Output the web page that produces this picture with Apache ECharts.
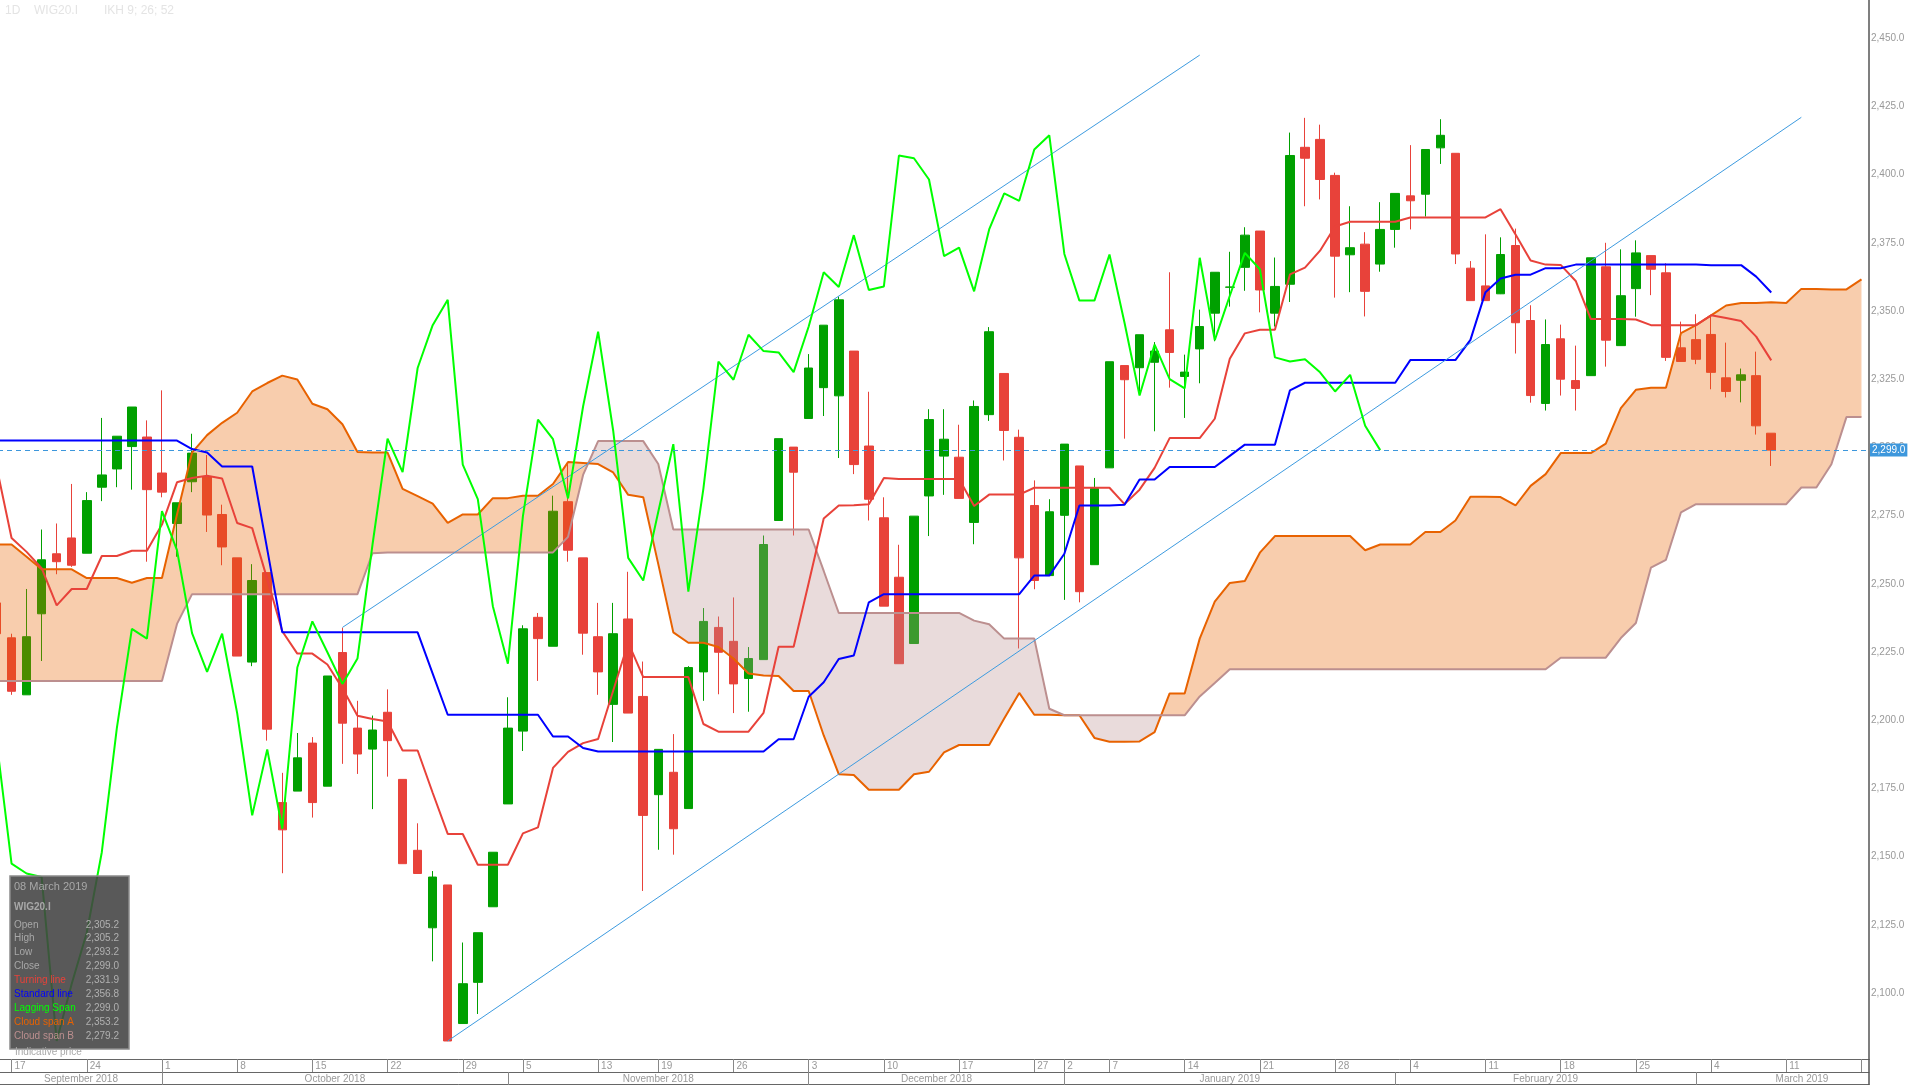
<!DOCTYPE html>
<html><head><meta charset="utf-8">
<script src="https://cdn.jsdelivr.net/npm/echarts@6/dist/echarts.min.js"></script>
<style>html,body{margin:0;padding:0;background:#fff;overflow:hidden;width:1908px;height:1085px;position:relative;}
#chart{position:absolute;left:-11px;top:0;width:1919px;height:1085px;}</style>
</head><body><div id="chart"></div>
<script>
// ---------- DATA ----------
const dates = [
'2018-09-14','2018-09-17','2018-09-18','2018-09-19','2018-09-20','2018-09-21','2018-09-24','2018-09-25','2018-09-26','2018-09-27','2018-09-28',
'2018-10-01','2018-10-02','2018-10-03','2018-10-04','2018-10-05','2018-10-08','2018-10-09','2018-10-10','2018-10-11','2018-10-12',
'2018-10-15','2018-10-16','2018-10-17','2018-10-18','2018-10-19','2018-10-22','2018-10-23','2018-10-24','2018-10-25','2018-10-26',
'2018-10-29','2018-10-30','2018-10-31','2018-11-02','2018-11-05','2018-11-06','2018-11-07','2018-11-08','2018-11-09',
'2018-11-13','2018-11-14','2018-11-15','2018-11-16','2018-11-19','2018-11-20','2018-11-21','2018-11-22','2018-11-23',
'2018-11-26','2018-11-27','2018-11-28','2018-11-29','2018-11-30','2018-12-03','2018-12-04','2018-12-05','2018-12-06','2018-12-07',
'2018-12-10','2018-12-11','2018-12-12','2018-12-13','2018-12-14','2018-12-17','2018-12-18','2018-12-19','2018-12-20','2018-12-21',
'2018-12-27','2018-12-28','2019-01-02','2019-01-03','2019-01-04','2019-01-07','2019-01-08','2019-01-09','2019-01-10','2019-01-11',
'2019-01-14','2019-01-15','2019-01-16','2019-01-17','2019-01-18','2019-01-21','2019-01-22','2019-01-23','2019-01-24','2019-01-25',
'2019-01-28','2019-01-29','2019-01-30','2019-01-31','2019-02-01','2019-02-04','2019-02-05','2019-02-06','2019-02-07','2019-02-08',
'2019-02-11','2019-02-12','2019-02-13','2019-02-14','2019-02-15','2019-02-18','2019-02-19','2019-02-20','2019-02-21','2019-02-22',
'2019-02-25','2019-02-26','2019-02-27','2019-02-28','2019-03-01','2019-03-04','2019-03-05','2019-03-06','2019-03-07','2019-03-08',
'2019-03-11','2019-03-12','2019-03-13','2019-03-14','2019-03-15','2019-03-18'];

const openP = [2243.0,2230.2,2209.3,2239.0,2261.0,2266.8,2261.2,2285.4,2292.1,2300.3,2303.8,2290.6,2272.1,2287.4,2289.2,2275.4,2259.5,2221.3,2254.1,2169.8,
2174.0,2191.6,2175.8,2224.8,2197.1,2189.4,2202.9,2178.3,2152.3,2123.9,2139.6,2088.8,2103.9,2131.6,2169.3,2196.0,2237.7,2227.1,2280.1,2259.5,
2230.6,2205.8,2237.1,2208.7,2172.7,2180.9,2167.6,2217.7,2234.0,2228.9,2215.3,2222.2,2273.2,2300.1,2310.6,2321.9,2318.9,2335.3,2300.5,2274.2,
2252.4,2228.1,2282.2,2296.8,2296.4,2272.5,2312.0,2327.1,2303.7,2278.7,2253.0,2275.1,2293.2,2257.0,2292.5,2330.0,2329.2,2331.2,2343.1,2326.0,
2336.1,2349.2,2358.7,2366.0,2379.3,2349.2,2359.8,2410.0,2412.9,2399.7,2370.6,2374.5,2367.2,2379.9,2392.2,2392.8,2409.8,2407.8,2365.7,2359.2,
2356.3,2374.0,2346.5,2316.1,2339.8,2324.5,2326.3,2366.2,2337.3,2358.2,2370.3,2364.0,2336.5,2339.5,2341.4,2325.5,2324.6,2326.3,2305.2];
const highP = [2246.0,2231.7,2248.1,2269.9,2272.1,2286.6,2283.6,2310.8,2304.1,2314.8,2309.9,2320.9,2279.7,2305.0,2297.2,2279.0,2259.5,2257.2,2254.1,2180.7,
2195.3,2193.8,2216.2,2233.9,2207.1,2201.7,2211.3,2178.3,2162.2,2144.7,2139.6,2118.5,2122.1,2151.6,2208.4,2234.8,2239.3,2282.3,2294.1,2259.5,
2243.0,2243.0,2254.4,2221.5,2189.3,2194.9,2219.8,2241.1,2238.0,2245.0,2226.8,2267.7,2303.2,2300.1,2334.2,2344.8,2355.3,2335.3,2320.4,2281.7,
2264.3,2274.8,2314.0,2314.0,2308.3,2317.2,2344.1,2327.1,2306.5,2287.9,2281.0,2301.2,2293.2,2288.8,2331.4,2330.0,2341.3,2338.6,2364.2,2334.0,
2350.5,2364.2,2371.7,2380.7,2379.3,2369.6,2415.4,2420.8,2418.3,2400.7,2388.4,2378.9,2389.9,2393.1,2410.8,2409.2,2420.3,2407.8,2368.3,2378.1,
2377.0,2380.2,2352.1,2346.9,2345.0,2337.3,2369.5,2375.0,2372.6,2375.9,2370.3,2367.5,2346.1,2348.8,2348.4,2338.4,2328.9,2335.1,2305.2];
const lowP = [2228.0,2209.3,2209.3,2221.7,2253.5,2256.2,2261.2,2280.3,2285.4,2284.5,2258.1,2281.7,2259.9,2283.6,2269.0,2256.8,2223.5,2219.8,2192.5,2143.9,
2174.0,2164.3,2175.8,2184.0,2180.3,2167.4,2179.3,2147.4,2143.8,2111.6,2082.4,2088.8,2092.3,2131.6,2169.3,2188.7,2214.4,2227.1,2258.1,2224.0,
2209.3,2192.0,2202.6,2137.4,2152.5,2150.7,2167.6,2207.1,2209.5,2202.6,2203.1,2222.2,2273.2,2267.7,2310.6,2311.5,2296.1,2290.2,2273.2,2241.8,
2220.7,2228.1,2267.5,2282.6,2281.3,2264.5,2309.7,2295.2,2226.3,2248.0,2253.0,2244.1,2243.2,2257.0,2292.5,2303.2,2320.4,2305.9,2321.9,2310.8,
2323.5,2338.9,2351.6,2357.4,2349.5,2344.3,2353.3,2388.4,2390.9,2354.9,2356.9,2348.0,2364.4,2373.2,2379.9,2384.6,2403.9,2367.2,2353.8,2353.8,
2356.2,2334.4,2316.4,2313.5,2319.0,2313.5,2326.3,2329.6,2337.3,2347.9,2355.8,2331.7,2331.5,2330.5,2321.3,2318.3,2316.5,2304.7,2293.2];
const closeP = [2231.7,2210.6,2230.6,2258.8,2258.1,2256.8,2280.5,2289.9,2304.1,2314.8,2284.5,2283.6,2279.7,2297.9,2275.2,2263.5,2223.5,2251.2,2196.7,2159.8,
2186.2,2169.8,2216.2,2198.9,2187.6,2196.4,2192.5,2147.4,2143.8,2142.5,2082.4,2103.4,2122.1,2151.6,2197.1,2233.5,2229.9,2276.6,2262.3,2231.9,
2217.7,2231.7,2202.6,2165.1,2189.3,2160.2,2219.3,2236.2,2224.9,2213.3,2222.6,2264.4,2303.2,2290.9,2329.1,2344.8,2354.1,2293.7,2281.0,2241.8,
2220.7,2274.8,2310.2,2303.0,2281.3,2315.0,2342.4,2306.2,2259.5,2251.2,2276.4,2301.2,2247.1,2284.9,2331.4,2324.8,2341.3,2335.3,2334.8,2327.6,
2344.3,2364.2,2358.8,2377.8,2357.7,2359.0,2407.0,2406.0,2398.2,2370.1,2373.2,2357.2,2379.9,2393.1,2390.4,2409.2,2414.4,2370.9,2353.8,2353.8,
2370.7,2345.7,2319.0,2337.7,2325.0,2321.6,2369.5,2339.3,2355.6,2371.3,2365.3,2333.0,2331.5,2332.3,2327.5,2320.5,2326.6,2307.9,2299.0];

// Turning line (Tenkan)
const turningLine = [2293.0,2266.8,2261.7,2255.7,2242.1,2248.1,2248.1,2260.2,2260.2,2262.1,2262.1,2271.7,2287.2,2288.8,2289.6,2288.6,2272.3,2270.4,2251.7,2232.6,
2224.4,2224.4,2220.4,2211.7,2201.6,2200.4,2199.5,2188.9,2188.9,2173.4,2158.3,2158.3,2147.0,2147.0,2147.0,2158.5,2160.7,2182.5,2188.4,2191.6,
2193.1,2210.8,2228.4,2215.8,2215.8,2215.8,2215.8,2198.6,2195.8,2195.8,2195.8,2202.7,2226.9,2226.9,2250.3,2273.9,2278.7,2278.8,2279.2,2288.8,
2288.4,2288.4,2288.4,2288.4,2288.4,2278.5,2282.7,2282.7,2282.7,2285.2,2285.2,2285.2,2285.2,2285.2,2285.2,2279.2,2284.5,2292.5,2303.4,2303.4,
2303.4,2310.5,2332.5,2341.8,2343.1,2343.1,2363.4,2365.9,2372.1,2381.0,2382.7,2382.7,2382.7,2382.7,2384.3,2384.3,2384.3,2384.3,2384.3,2384.3,
2387.3,2378.0,2368.5,2367.0,2366.9,2361.0,2347.1,2347.1,2347.1,2346.9,2344.8,2344.8,2344.8,2344.8,2348.4,2347.4,2346.3,2340.6,2331.9];
// Standard line (Kijun)
const standardLine = [2302.5,2302.5,2302.5,2302.5,2302.5,2302.5,2302.5,2302.5,2302.5,2302.5,2302.5,2302.5,2302.5,2299.4,2298.1,2293.0,2293.0,2293.0,2262.6,2232.2,
2232.2,2232.2,2232.2,2232.2,2232.2,2232.2,2232.2,2232.2,2232.2,2217.1,2202.0,2202.0,2202.0,2202.0,2202.0,2202.0,2202.0,2194.0,2194.0,2189.8,
2188.5,2188.5,2188.5,2188.5,2188.5,2188.5,2188.5,2188.5,2188.5,2188.5,2188.5,2188.5,2193.0,2193.0,2208.6,2213.9,2222.4,2223.7,2243.2,2246.2,
2246.2,2246.2,2246.2,2246.2,2246.2,2246.2,2246.2,2246.2,2246.2,2253.0,2253.0,2261.0,2278.7,2278.7,2278.7,2279.0,2288.2,2288.2,2292.8,2292.8,
2292.8,2292.8,2296.9,2301.0,2301.0,2301.0,2320.9,2323.7,2323.7,2323.7,2323.7,2323.7,2323.7,2323.7,2332.0,2332.0,2332.0,2332.0,2339.4,2356.9,
2361.9,2363.3,2363.3,2365.7,2365.7,2367.0,2367.0,2367.0,2367.0,2367.0,2367.0,2367.0,2367.0,2367.0,2366.8,2366.8,2366.8,2362.6,2356.8];
// Lagging span (plotted 26 periods back)
const laggingSpan = [2192.5,2147.4,2143.8,2142.5,2082.4,2103.4,2122.1,2151.6,2197.1,2233.5,2229.9,2276.6,2262.3,2231.9,2217.7,2231.7,2202.6,2165.1,2189.3,2160.2,
2219.3,2236.2,2224.9,2213.3,2222.6,2264.4,2303.2,2290.9,2329.1,2344.8,2354.1,2293.7,2281.0,2241.8,2220.7,2274.8,2310.2,2303.0,2281.3,2315.0,
2342.4,2306.2,2259.5,2251.2,2276.4,2301.2,2247.1,2284.9,2331.4,2324.8,2341.3,2335.3,2334.8,2327.6,2344.3,2364.2,2358.8,2377.8,2357.7,2359.0,
2407.0,2406.0,2398.2,2370.1,2373.2,2357.2,2379.9,2393.1,2390.4,2409.2,2414.4,2370.9,2353.8,2353.8,2370.7,2345.7,2319.0,2337.7,2325.0,2321.6,
2369.5,2339.3,2355.6,2371.3,2365.3,2333.0,2331.5,2332.3,2327.5,2320.5,2326.6,2307.9,2299.0];
// Cloud span A / B (plotted 26 periods ahead)
const cloudSpanA = [2264.4,2264.4,2259.9,2255.3,2255.3,2255.3,2252.1,2252.1,2252.1,2250.4,2252.1,2252.1,2275.4,2298.1,2304.5,2309.0,2312.7,2320.5,2323.6,2326.3,
2324.9,2316.0,2314.0,2308.5,2298.3,2298.1,2298.1,2284.8,2282.1,2279.4,2272.3,2275.4,2275.4,2281.4,2281.4,2282.3,2282.3,2286.6,2294.6,2294.3,
2293.9,2290.8,2282.6,2281.7,2257.2,2232.2,2228.4,2228.4,2226.8,2222.6,2217.1,2216.4,2216.2,2210.7,2210.7,2194.4,2180.2,2179.9,2174.5,2174.5,
2174.5,2180.2,2181.1,2188.2,2190.9,2190.9,2190.9,2200.6,2210.0,2202.0,2202.0,2201.8,2201.8,2193.5,2192.1,2192.1,2192.2,2195.6,2209.8,2209.8,
2229.9,2243.5,2250.3,2251.0,2261.4,2267.5,2267.5,2267.5,2267.5,2267.5,2267.5,2262.3,2264.4,2264.4,2264.4,2269.0,2269.0,2273.2,2281.9,2281.9,
2281.8,2278.7,2285.9,2290.2,2297.9,2297.9,2297.9,2301.4,2314.4,2321.1,2321.9,2321.9,2341.9,2344.8,2348.4,2352.0,2352.9,2352.9,2353.2,2352.9,
2358.1,2358.1,2357.9,2357.9,2361.6];
const cloudSpanB = [2214.4,2214.4,2214.4,2214.4,2214.4,2214.4,2214.4,2214.4,2214.4,2214.4,2214.4,2214.4,2235.3,2246.2,2246.2,2246.2,2246.2,2246.2,2246.2,2246.2,
2246.2,2246.2,2246.2,2246.2,2246.2,2261.2,2261.5,2261.5,2261.5,2261.5,2261.5,2261.5,2261.5,2261.5,2261.5,2261.5,2261.5,2261.5,2267.2,2289.9,
2302.3,2302.3,2302.3,2302.3,2293.9,2269.9,2269.9,2269.9,2269.9,2269.9,2269.9,2269.9,2269.9,2269.9,2269.9,2254.7,2239.3,2239.3,2239.3,2239.3,
2239.3,2239.3,2239.3,2239.3,2239.3,2236.5,2235.2,2229.9,2229.9,2229.9,2204.2,2201.8,2201.8,2201.8,2201.8,2201.8,2201.8,2201.8,2201.8,2201.8,
2208.7,2213.6,2218.7,2218.7,2218.7,2218.7,2218.7,2218.7,2218.7,2218.7,2218.7,2218.7,2218.7,2218.7,2218.7,2218.7,2218.7,2218.7,2218.7,2218.7,
2218.7,2218.7,2218.7,2218.7,2222.9,2222.9,2222.9,2222.9,2230.1,2235.6,2255.9,2258.8,2276.2,2279.2,2279.2,2279.2,2279.2,2279.2,2279.2,2279.2,
2285.3,2285.3,2293.8,2311.1,2311.1];
// Trendlines: [date, price] endpoints
const upperTrend = [['2018-10-17', 2234.0], ['2019-01-15', 2443.8]];
const lowerTrend = [['2018-10-26', 2082.4], ['2019-03-12', 2421.0]];
const yTickValues = [2100,2125,2150,2175,2200,2225,2250,2275,2300,2325,2350,2375,2400,2425,2450];
const yMin = 2075.8, yMax = 2464.0;
const monthNames = ['January','February','March','April','May','June','July','August','September','October','November','December'];
const headerTexts = ['1D', 'WIG20.I', 'IKH 9; 26; 52'];
const infoLabels = ['Open','High','Low','Close','Turning line','Standard line','Lagging Span','Cloud span A','Cloud span B'];

// ---------- LAYOUT / STYLE ----------
const FONT = '"Liberation Sans", Arial, Helvetica, sans-serif';
const GREEN = '#00a000', RED = '#e8423a';
const COL_TENKAN = '#e8423a', COL_KIJUN = '#0000ff', COL_LAG = '#00ff00', COL_A = '#e86200', COL_B = '#bc8f8f';
const FILL_A = 'rgba(232,98,0,0.32)', FILL_B = 'rgba(188,143,143,0.32)';
const SHIFT = 11;                 // chart container is shifted left by this many px
const CHART_W = 1919;
const CELL = 15.04, N = dates.length;
const GRID_W = CELL * N, GRID_RIGHT_X = GRID_W;
const PLOT_BOTTOM = 1059;
const px = x => x + SHIFT;        // page x -> chart x

const fmt = v => v.toLocaleString('en-US', {minimumFractionDigits: 1, maximumFractionDigits: 1});
const toDate = s => new Date(s + 'T00:00:00Z');
const weekStart = dates.map((d, i) => {
  if (i === 0) return false;
  const a = toDate(dates[i - 1]), b = toDate(d);
  return b.getUTCDay() <= a.getUTCDay() || (b - a) >= 7 * 864e5;
});
const monthStartIdx = [];
dates.forEach((d, i) => { if (i > 0 && d.slice(5, 7) !== dates[i - 1].slice(5, 7)) monthStartIdx.push(i); });
const leftEdgeIdx = SHIFT / CELL - 0.5;
const rightEdgeIdx = (1908 + SHIFT) / CELL - 0.5;
const segStarts = [leftEdgeIdx].concat(monthStartIdx);
const segEnds = monthStartIdx.concat([rightEdgeIdx]);
const segMonth = [0].concat(monthStartIdx).map(i => monthNames[+dates[i].slice(5, 7) - 1] + ' ' + dates[i].slice(0, 4));
const monthMid = segStarts.map((s, k) => (s + segEnds[k]) / 2);

const candleData = openP.map((o, i) => [o, closeP[i], lowP[i], highP[i]]);
const last = openP.length - 1;

function renderCloud(params, api) {
  const pa = cloudSpanA.map((v, i) => api.coord([i, v]));
  const pb = cloudSpanB.map((v, i) => api.coord([i, v]));
  const regions = [];
  let cur = null;
  for (let i = 0; i < cloudSpanA.length; i++) {
    const d = cloudSpanA[i] - cloudSpanB[i];
    const s = d > 0 ? 1 : (d < 0 ? -1 : 0);
    if (!cur) { cur = {s: s, top: [pa[i]], bot: [pb[i]]}; continue; }
    if (cur.s !== 0 && s !== 0 && s !== cur.s) {
      const pd = cloudSpanA[i - 1] - cloudSpanB[i - 1];
      const t = pd / (pd - d);
      const p = [pa[i - 1][0] + (pa[i][0] - pa[i - 1][0]) * t, pa[i - 1][1] + (pa[i][1] - pa[i - 1][1]) * t];
      cur.top.push(p); cur.bot.push(p);
      regions.push(cur);
      cur = {s: s, top: [p, pa[i]], bot: [p, pb[i]]};
    } else {
      if (cur.s === 0) cur.s = s;
      cur.top.push(pa[i]); cur.bot.push(pb[i]);
    }
  }
  if (cur) regions.push(cur);
  return {
    type: 'group',
    children: regions.map(r => ({
      type: 'polygon',
      shape: {points: r.top.concat(r.bot.slice().reverse())},
      style: {fill: r.s >= 0 ? FILL_A : FILL_B}
    }))
  };
}

const lineSeries = (name, data, color, width, z) => ({
  type: 'line', name, data, z, symbol: 'none', silent: true,
  lineStyle: {color, width}, itemStyle: {color}, connectNulls: false
});

// header + info box graphics
const infoValues = [openP[last], highP[last], lowP[last], closeP[last], turningLine[last], standardLine[last],
  laggingSpan[laggingSpan.length - 1], cloudSpanA[last], cloudSpanB[last]];
const infoColors = ['#a8a8a8','#a8a8a8','#a8a8a8','#a8a8a8', COL_TENKAN, COL_KIJUN, COL_LAG, COL_A, COL_B];
const g = [];
const txt = (x, y, text, fill, size, extra) => ({type: 'text', x: px(x), y, z: 101,
  style: Object.assign({text, fill, fontSize: size, fontFamily: FONT, verticalAlign: 'middle'}, extra || {})});
g.push(txt(5, 11, headerTexts[0], '#e4e4e4', 12));
g.push(txt(34, 11, headerTexts[1], '#e4e4e4', 12));
g.push(txt(104, 11, headerTexts[2], '#e4e4e4', 12));
g.push({type: 'rect', z: 100, shape: {x: px(10), y: 876, width: 119, height: 173}, style: {fill: 'rgba(66,66,66,0.88)', stroke: '#8c8c8c', lineWidth: 1.5}});
const lastD = toDate(dates[last]);
const dateTxt = String(lastD.getUTCDate()).padStart(2, '0') + ' ' + monthNames[lastD.getUTCMonth()] + ' ' + lastD.getUTCFullYear();
g.push(txt(14, 887, dateTxt, '#a8a8a8', 11));
g.push(txt(14, 907, headerTexts[1], '#a8a8a8', 10, {fontWeight: 'bold'}));
infoLabels.forEach((lab, k) => {
  const y = 924.8 + k * 13.9;
  g.push(txt(14, y, lab, infoColors[k], 10));
  g.push(txt(119, y, fmt(infoValues[k]), '#b0b0b0', 10, {align: 'right'}));
});
g.push(txt(15, 1052, 'Indicative price', '#a8a8a8', 10));
g.push({type: 'line', z: 100, shape: {x1: GRID_RIGHT_X, y1: PLOT_BOTTOM, x2: GRID_RIGHT_X, y2: 1085}, style: {stroke: '#555', lineWidth: 1.5}});

const chart = echarts.init(document.getElementById('chart'), null, {renderer: 'canvas'});
chart.setOption({
  animation: false,
  backgroundColor: '#ffffff',
  grid: {left: 0, right: CHART_W - GRID_RIGHT_X, top: 0, bottom: 1085 - PLOT_BOTTOM, containLabel: false},
  xAxis: [
    {
      type: 'category', data: dates, boundaryGap: true, position: 'bottom',
      axisLine: {show: true, onZero: false, lineStyle: {color: '#666', width: 1}},
      axisTick: {show: true, alignWithLabel: true, length: 13, interval: (i) => weekStart[i], lineStyle: {color: '#888'}},
      axisLabel: {interval: (i) => weekStart[i] && i < N - 1, formatter: (v) => String(+v.slice(8)), align: 'left',
        padding: [0, 0, 0, 3], margin: 2, color: '#999', fontSize: 10, fontFamily: FONT},
      splitLine: {show: false}
    },
    {
      type: 'value', min: -0.5, max: N - 0.5, position: 'bottom', offset: 13,
      axisLine: {show: true, onZero: false, lineStyle: {color: '#666', width: 1}},
      axisTick: {show: true, customValues: monthStartIdx, length: 13, lineStyle: {color: '#888'}},
      axisLabel: {show: true, customValues: monthMid, margin: 2, color: '#999', fontSize: 10, fontFamily: FONT,
        formatter: (v) => { const k = monthMid.findIndex(m => Math.abs(m - v) < 1e-6); return k >= 0 ? segMonth[k] : ''; }},
      splitLine: {show: false}
    },
    {
      type: 'value', min: -0.5, max: N - 0.5, position: 'bottom', offset: 25,
      axisLine: {show: true, onZero: false, lineStyle: {color: '#666', width: 1}},
      axisTick: {show: false}, axisLabel: {show: false}, splitLine: {show: false}
    }
  ],
  yAxis: {
    type: 'value', position: 'right', min: yMin, max: yMax,
    axisLine: {show: true, onZero: false, lineStyle: {color: '#555', width: 1.5}},
    axisTick: {show: false}, splitLine: {show: false},
    axisLabel: {customValues: yTickValues, margin: 2, color: '#999', fontSize: 10, fontFamily: FONT, formatter: (v) => fmt(v)}
  },
  series: [
    {
      type: 'candlestick', name: 'WIG20.I', data: candleData, z: 2, barWidth: 9, silent: true,
      itemStyle: {color: GREEN, color0: RED, borderColor: GREEN, borderColor0: RED, borderWidth: 1},
      markLine: {
        symbol: ['none', 'none'], silent: true, animation: false, z: 10,
        lineStyle: {color: '#3d97dc', type: [5, 4], width: 1},
        label: {position: 'end', formatter: () => fmt(closeP[last]), color: '#fff', backgroundColor: '#3d97dc',
          padding: [2, 2, 1, 2], fontSize: 10, fontFamily: FONT, distance: 1},
        data: [{yAxis: closeP[last]}]
      }
    },
    {type: 'custom', name: 'cloud', z: 3, silent: true, clip: true, data: [[0, cloudSpanA[0]]], encode: {x: 0, y: 1}, renderItem: renderCloud},
    lineSeries('Cloud span A', cloudSpanA, COL_A, 2, 4),
    lineSeries('Cloud span B', cloudSpanB, COL_B, 2, 4),
    lineSeries('Turning line', turningLine, COL_TENKAN, 2, 5),
    lineSeries('Standard line', standardLine, COL_KIJUN, 2, 5),
    lineSeries('Upper trend', upperTrend, '#3d9be0', 1, 5),
    lineSeries('Lower trend', lowerTrend, '#3d9be0', 1, 5),
    lineSeries('Lagging Span', laggingSpan, COL_LAG, 2, 6)
  ],
  graphic: g
});
</script></body></html>
